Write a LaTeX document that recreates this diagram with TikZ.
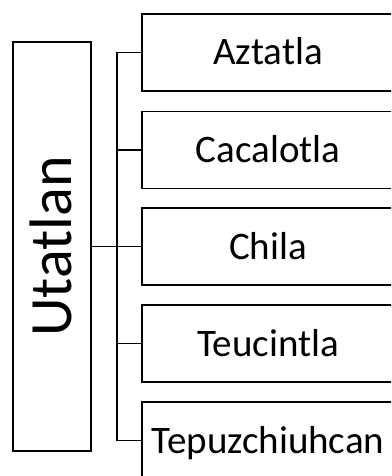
\documentclass[tikz,border=0pt]{standalone}
\usepackage{fontspec}
\setmainfont{Carlito}
\usetikzlibrary{positioning}

\begin{document}
\begin{tikzpicture}[
  x=1pt, y=-1pt,
  every node/.style={align=center},
  root/.style={rectangle, draw, line width=1.8pt, minimum width=409pt, minimum height=78pt, inner sep=0pt, text height=38.6pt, text depth=0pt, font=\fontsize{60}{60}\selectfont},
  town/.style={rectangle, draw, line width=1.8pt, minimum width=252pt, minimum height=77pt, inner sep=0pt, text height=25pt, text depth=0pt, font=\fontsize{39}{40}\selectfont},
  link/.style={line width=1.8pt}
]
  \clip (0,0) rectangle (391,476);

  \node[root, rotate=90] (utatlan) at (52,246.5) {Utatlan};

  \node[town] (aztatla)   at (268,52.5)  {Aztatla};
  \node[town] (cacalotla) at (268,150)   {Cacalotla};
  \node[town] (chila)     at (268,246.5) {Chila};
  \node[town] (teucintla) at (268,343.5) {Teucintla};
  \node[town] (tepuz)     at (268,440.5) {Tepuzchiuhcan};

  % rotated node: its south side faces right
  \draw[link] (utatlan.south) -- ++(25,0) |- (aztatla.west);
  \draw[link] (utatlan.south) -- ++(25,0) |- (cacalotla.west);
  \draw[link] (utatlan.south) -- ++(25,0) |- (chila.west);
  \draw[link] (utatlan.south) -- ++(25,0) |- (teucintla.west);
  \draw[link] (utatlan.south) -- ++(25,0) |- (tepuz.west);
\end{tikzpicture}
\end{document}
